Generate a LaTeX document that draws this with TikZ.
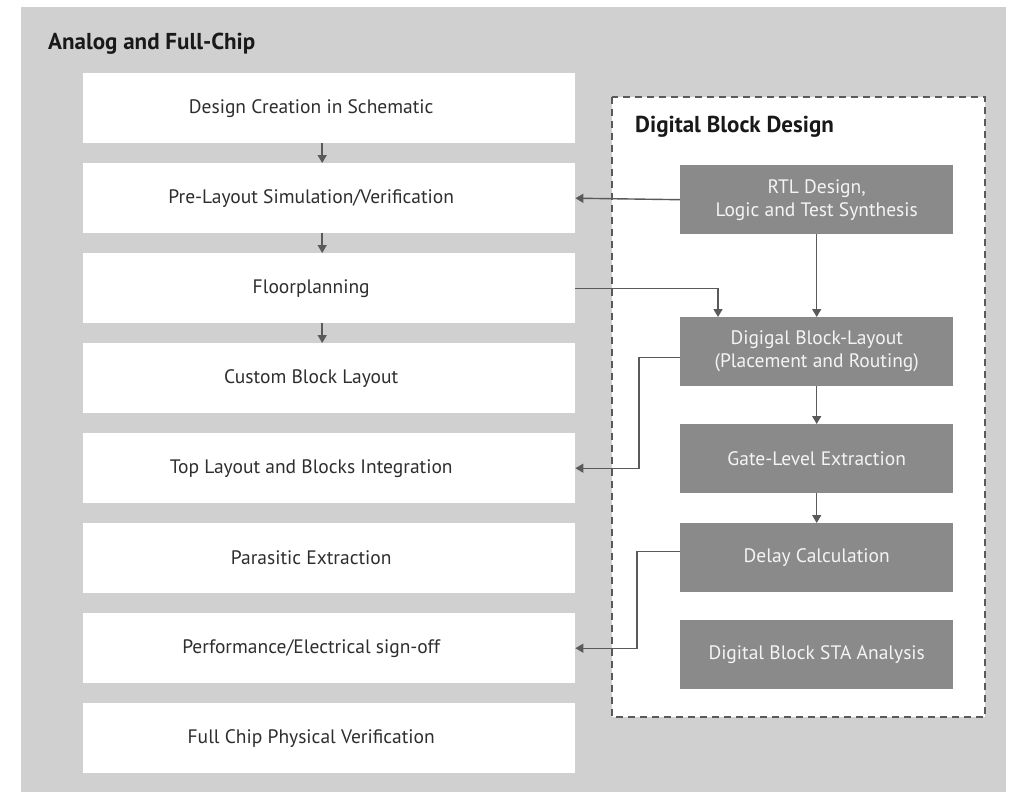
\documentclass[tikz,border=0pt]{standalone}
\usepackage{fontspec}
\setmainfont{PT Sans}
\usetikzlibrary{arrows.meta,positioning,calc}
\definecolor{panelgray}{HTML}{D0D0D0}
\definecolor{stepgray}{HTML}{8A8A8A}
\definecolor{linegray}{HTML}{5A5A5A}
\definecolor{textdark}{HTML}{2E2E2E}
\definecolor{textlight}{HTML}{F4F4F4}
\begin{document}
\begin{tikzpicture}[x=1pt,y=-1pt,
  flowbox/.style={fill=white, draw=none, minimum width=492pt, minimum height=70pt,
    inner sep=0pt, anchor=north west},
  flowtext/.style={text=textdark, font=\fontsize{19.5}{23}\selectfont, anchor=center},
  digbox/.style={fill=stepgray, draw=none, minimum width=273pt, minimum height=69pt,
    inner sep=0pt, anchor=north west, text=textlight, align=center,
    font=\fontsize{19.5}{23}\selectfont},
  heading/.style={font=\fontsize{23}{26}\bfseries\selectfont, text=black!90, anchor=base west, inner sep=0pt},
  arr/.style={draw=linegray, line width=1.5pt, -{Triangle[length=8pt,width=9pt]}},
  link/.style={draw=linegray, line width=1.4pt, -{Triangle[length=8pt,width=9pt]}}
]
\useasboundingbox (0,0) rectangle (1009,792);
% outer panel
\fill[panelgray] (21,7) rectangle (1006,792);
\node[heading] (ttl) at (48,49) {Analog and Full-Chip};

% analog / full-chip flow
\foreach \i/\name in {0/d1,1/d2,2/d3,3/d4,4/d5,5/d6,6/d7,7/d8}{
  \node[flowbox] (\name) at (83,{73+90*\i}) {};
}
\node[flowtext] (t1) at ([xshift=-18pt]d1.center) {Design Creation in Schematic};
\node[flowtext] (t2) at ([xshift=-18pt]d2.center) {Pre-Layout Simulation/Verification};
\node[flowtext] (t3) at ([xshift=-18pt]d3.center) {Floorplanning};
\node[flowtext] (t4) at ([xshift=-18pt]d4.center) {Custom Block Layout};
\node[flowtext] (t5) at ([xshift=-18pt]d5.center) {Top Layout and Blocks Integration};
\node[flowtext] (t6) at ([xshift=-18pt]d6.center) {Parasitic Extraction};
\node[flowtext] (t7) at ([xshift=-18pt]d7.center) {Performance/Electrical sign-off};
\node[flowtext] (t8) at ([xshift=-18pt]d8.center) {Full Chip Physical Verification};

\draw[arr] ([xshift=-7pt]d1.south) -- ([xshift=-7pt]d2.north);
\draw[arr] ([xshift=-7pt]d2.south) -- ([xshift=-7pt]d3.north);
\draw[arr] ([xshift=-7pt]d3.south) -- ([xshift=-7pt]d4.north);

% digital block design
\draw[draw=linegray, line width=1.3pt, dash pattern=on 7pt off 5pt, fill=white]
  (612,97) rectangle (985,717);
\node[heading] (dtl) at (635,132) {Digital Block Design};

\node[digbox] (r1) at (680,165) {RTL Design,\\Logic and Test Synthesis};
\node[digbox] (r2) at (680,317) {Digigal Block-Layout\\(Placement and Routing)};
\node[digbox] (r3) at (680,424) {Gate-Level Extraction};
\node[digbox] (r4) at (680,523) {Delay Calculation};
\node[digbox] (r5) at (680,620) {Digital Block STA Analysis};

\draw[link] (r1.west) -- (d2.east);
\draw[link] (r1.south) -- (r2.north);
\draw[link] (r2.south) -- (r3.north);
\draw[link] (r3.south) -- (r4.north);
\draw[link] (d3.east) -| ([xshift=38pt]r2.north west);
\draw[link] ([yshift=-6pt]r2.west) -- ++(-41,0) |- (d5.east);
\draw[link] ([yshift=6pt]r4.west) -- ++(-43,0) |- (d7.east);
\end{tikzpicture}
\end{document}
